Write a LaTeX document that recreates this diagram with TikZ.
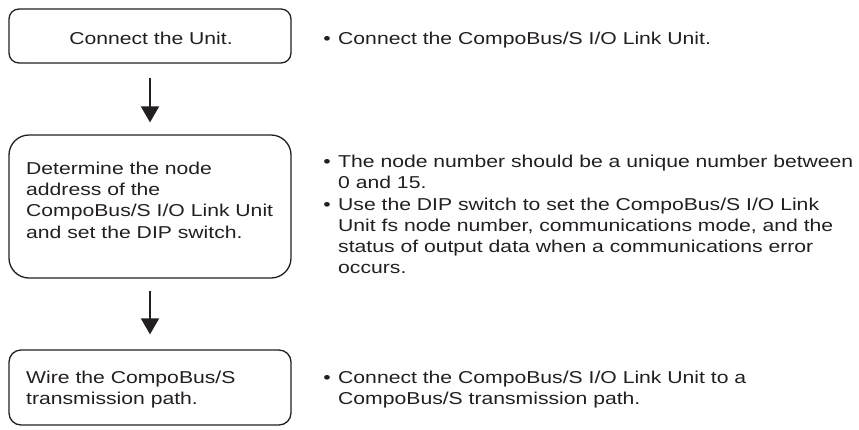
\documentclass[tikz,border=0pt]{standalone}
\usepackage{fontspec}
\setmainfont{Liberation Sans}[FakeStretch=1.23]
\usetikzlibrary{arrows.meta}
\definecolor{ink}{HTML}{231F20}
\begin{document}
\begin{tikzpicture}[x=1pt,y=-1pt,
  box/.style={draw=ink, line width=1.3pt, rounded corners=#1, inner sep=0pt, minimum width=282pt},
  txt/.style={anchor=base west, align=left, inner sep=0pt, text=ink, font=\fontsize{17.2}{21.3}\selectfont},
  ctxt/.style={anchor=base, inner sep=0pt, text=ink, font=\fontsize{17.2}{21.3}\selectfont},
  bul/.style={anchor=base, inner sep=0pt, text=ink, font=\fontsize{17.2}{21.3}\selectfont},
  flow/.style={draw=ink, line width=2pt, -{Triangle[width=18pt,length=16pt]}}]
\useasboundingbox (0,0) rectangle (859,429);
% boxes
\node[box=10pt, minimum height=54pt] (b1) at (150,36) {};
\node[box=20pt, minimum height=143pt] (b2) at (150,206.5) {};
\node[box=12pt, minimum height=75pt] (b3) at (150,387.5) {};
% box texts (anchor base = last line)
\node[ctxt] (t1) at (151,44) {Connect the Unit.};
\node[txt] (t2) at (26,238) {Determine the node\\address of the\\CompoBus/S I/O Link Unit\\and set the DIP switch.};
\node[txt] (t3) at (26,404.3) {Wire the CompoBus/S\\transmission path.};
% arrows
\draw[flow, shorten <=14pt, shorten >=12pt] (b1.south) -- (b2.north);
\draw[flow, shorten <=12pt, shorten >=15pt] (b2.south) -- (b3.north);
% right notes
\node[bul] (d1) at (327,44) {•};
\node[txt] (n1) at (338,44) {Connect the CompoBus/S I/O Link Unit.};
\node[bul] (d2) at (327,167) {•};
\node[txt] (n2) at (338,188.3) {The node number should be a unique number between\\0 and 15.};
\node[bul] (d3) at (327,210) {•};
\node[txt] (n3) at (338,273.9) {Use the DIP switch to set the CompoBus/S I/O Link\\Unit fs node number, communications mode, and the\\status of output data when a communications error\\occurs.};
\node[bul] (d4) at (327,383) {•};
\node[txt] (n4) at (338,404.3) {Connect the CompoBus/S I/O Link Unit to a\\CompoBus/S transmission path.};
\end{tikzpicture}
\end{document}
